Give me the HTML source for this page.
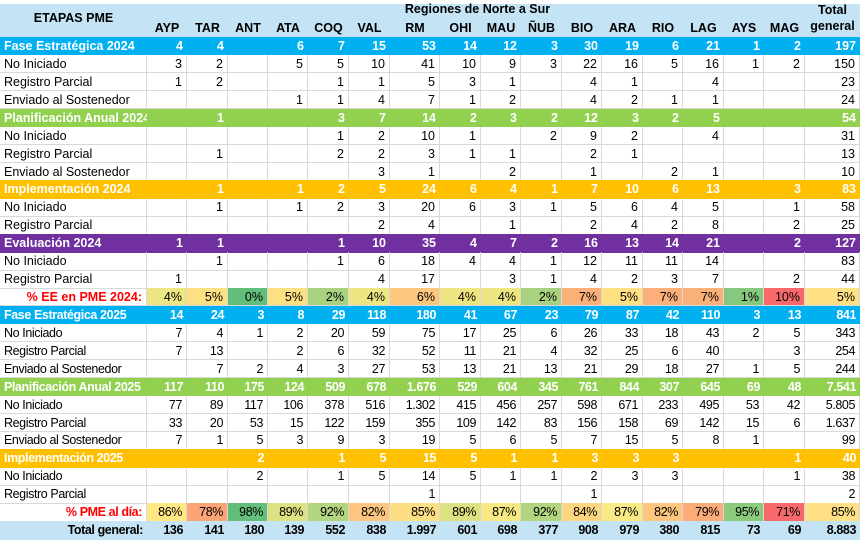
<!DOCTYPE html>
<html><head><meta charset="utf-8">
<style>
body{margin:0;width:862px;height:539px;overflow:hidden;background:#fff;font-family:"Liberation Sans",sans-serif;}
#t{position:absolute;left:0;top:0;width:862px;height:539px;}
.c{position:absolute;box-sizing:border-box;font-size:12.5px;line-height:18px;padding:0 4px;white-space:nowrap;overflow:hidden;text-align:right;color:#000;}
.g{border-right:1px solid #d9d9d9;border-bottom:1px solid #d9d9d9;}
.lab{text-align:left;}
.b{font-weight:bold;}
.cond{letter-spacing:-0.4px;}
.hd{position:absolute;font-weight:bold;font-size:12.5px;color:#000;}
</style></head><body>
<div id="t">
<div style="position:absolute;left:0;top:4px;width:860px;height:33px;background:#c4e4f5"></div>
<div class="hd" style="left:0;width:147px;top:11px;text-align:center">ETAPAS PME</div>
<div class="hd" style="left:390px;width:175px;top:2px;text-align:center">Regiones de Norte a Sur</div>
<div class="hd" style="left:805px;width:55px;top:2px;text-align:center;line-height:16px">Total<br>general</div>
</div>
<script>
const regions=["AYP","TAR","ANT","ATA","COQ","VAL","RM","OHI","MAU","ÑUB","BIO","ARA","RIO","LAG","AYS","MAG"];
const colW=[147,40,41,40,40,41,41,50,41,40,41,40,41,40,41,40,41,55];
const rowLabels=["Fase Estratégica 2024","No Iniciado","Registro Parcial","Enviado al Sostenedor","Planificación Anual 2024","No Iniciado","Registro Parcial","Enviado al Sostenedor","Implementación 2024","No Iniciado","Registro Parcial","Evaluación 2024","No Iniciado","Registro Parcial","% EE en PME 2024:","Fase Estratégica 2025","No Iniciado","Registro Parcial","Enviado al Sostenedor","Planificación Anual 2025","No Iniciado","Registro Parcial","Enviado al Sostenedor","Implementación 2025","No Iniciado","Registro Parcial","% PME al día:","Total general:"];
const rowKinds=["blue","","","","green","","","","orange","","","purple","","","pctA","blue","","","","green","","","","orange","","","pctB","total"];
const rowValues=[
"4,4,,6,7,15,53,14,12,3,30,19,6,21,1,2,197",
"3,2,,5,5,10,41,10,9,3,22,16,5,16,1,2,150",
"1,2,,,1,1,5,3,1,,4,1,,4,,,23",
",,,1,1,4,7,1,2,,4,2,1,1,,,24",
",1,,,3,7,14,2,3,2,12,3,2,5,,,54",
",,,,1,2,10,1,,2,9,2,,4,,,31",
",1,,,2,2,3,1,1,,2,1,,,,,13",
",,,,,3,1,,2,,1,,2,1,,,10",
",1,,1,2,5,24,6,4,1,7,10,6,13,,3,83",
",1,,1,2,3,20,6,3,1,5,6,4,5,,1,58",
",,,,,2,4,,1,,2,4,2,8,,2,25",
"1,1,,,1,10,35,4,7,2,16,13,14,21,,2,127",
",1,,,1,6,18,4,4,1,12,11,11,14,,,83",
"1,,,,,4,17,,3,1,4,2,3,7,,2,44",
"4,5,0,5,2,4,6,4,4,2,7,5,7,7,1,10,5",
"14,24,3,8,29,118,180,41,67,23,79,87,42,110,3,13,841",
"7,4,1,2,20,59,75,17,25,6,26,33,18,43,2,5,343",
"7,13,,2,6,32,52,11,21,4,32,25,6,40,,3,254",
",7,2,4,3,27,53,13,21,13,21,29,18,27,1,5,244",
"117,110,175,124,509,678,1.676,529,604,345,761,844,307,645,69,48,7.541",
"77,89,117,106,378,516,1.302,415,456,257,598,671,233,495,53,42,5.805",
"33,20,53,15,122,159,355,109,142,83,156,158,69,142,15,6,1.637",
"7,1,5,3,9,3,19,5,6,5,7,15,5,8,1,,99",
",,2,,1,5,15,5,1,1,3,3,3,,,1,40",
",,2,,1,5,14,5,1,1,2,3,3,,,1,38",
",,,,,,1,,,,1,,,,,,2",
"86,78,98,89,92,82,85,89,87,92,84,87,82,79,95,71,85",
"136,141,180,139,552,838,1.997,601,698,377,908,979,380,815,73,69,8.883"];
const bg={blue:"#00b0f0",green:"#92d050",orange:"#ffc000",purple:"#7030a0",total:"#c4e4f5"};
function mix(a,b,t){return "rgb("+a.map((v,i)=>Math.round(v+(b[i]-v)*t)).join(",")+")";}
const G=[99,190,123],Y=[255,235,132],R=[248,105,107];
function heat(v,min,mid,max,highGood){
  let lo=highGood?R:G, hi=highGood?G:R;
  if(v<=mid) return mix(lo,Y,(v-min)/((mid-min)||1));
  return mix(Y,hi,(v-mid)/((max-mid)||1));
}
const T=document.getElementById("t");
const rh=17.93, top0=37;
// column header labels
let x=0;const xs=[];for(const w of colW){xs.push(x);x+=w;}
regions.forEach((r,i)=>{
  const d=document.createElement("div");
  
  
  d.className="hd";d.style.left=xs[i+1]+"px";d.style.width=colW[i+1]+"px";d.style.top="21px";d.style.textAlign="center";
  d.textContent=r;T.appendChild(d);
});
rowLabels.forEach((lab,ri)=>{
  const kind=rowKinds[ri];const vals=rowValues[ri].split(",");
  const y=top0+ri*rh;const lower=ri>=15;
  let nums=vals.slice(0,16).map(Number);let mn=Math.min(...nums),mx=Math.max(...nums);
  let sorted=[...nums].sort((a,b)=>a-b);let md=(sorted[7]+sorted[8])/2;
  for(let ci=0;ci<18;ci++){
    const d=document.createElement("div");
    
    
    let cls="c"+(lower?" cond":"");
    d.style.left=xs[ci]+"px";d.style.width=colW[ci]+"px";d.style.top=y+"px";d.style.height=(rh+0.5)+"px";
    let txt=ci==0?lab:vals[ci-1]||"";
    if(kind in bg){d.style.background=bg[kind];cls+=" b";if(kind!=="total")d.style.color="#fff";}
    else if(kind==="pctA"||kind==="pctB"){
      cls+=" g";
      if(ci==0){d.style.color="#ff0000";cls+=" b";}
      else{const v=Number(vals[ci-1]);d.style.background=ci==17?"#ffe084":heat(v,mn,md,mx,kind==="pctB");txt=v+"%";}
    } else cls+=" g";
    if(ci==0){ if(kind==="pctA"||kind==="pctB"||kind==="total") d.style.textAlign="right"; else cls+=" lab";}
    d.className=cls;d.textContent=txt;T.appendChild(d);
  }
});
</script>
</body></html>
